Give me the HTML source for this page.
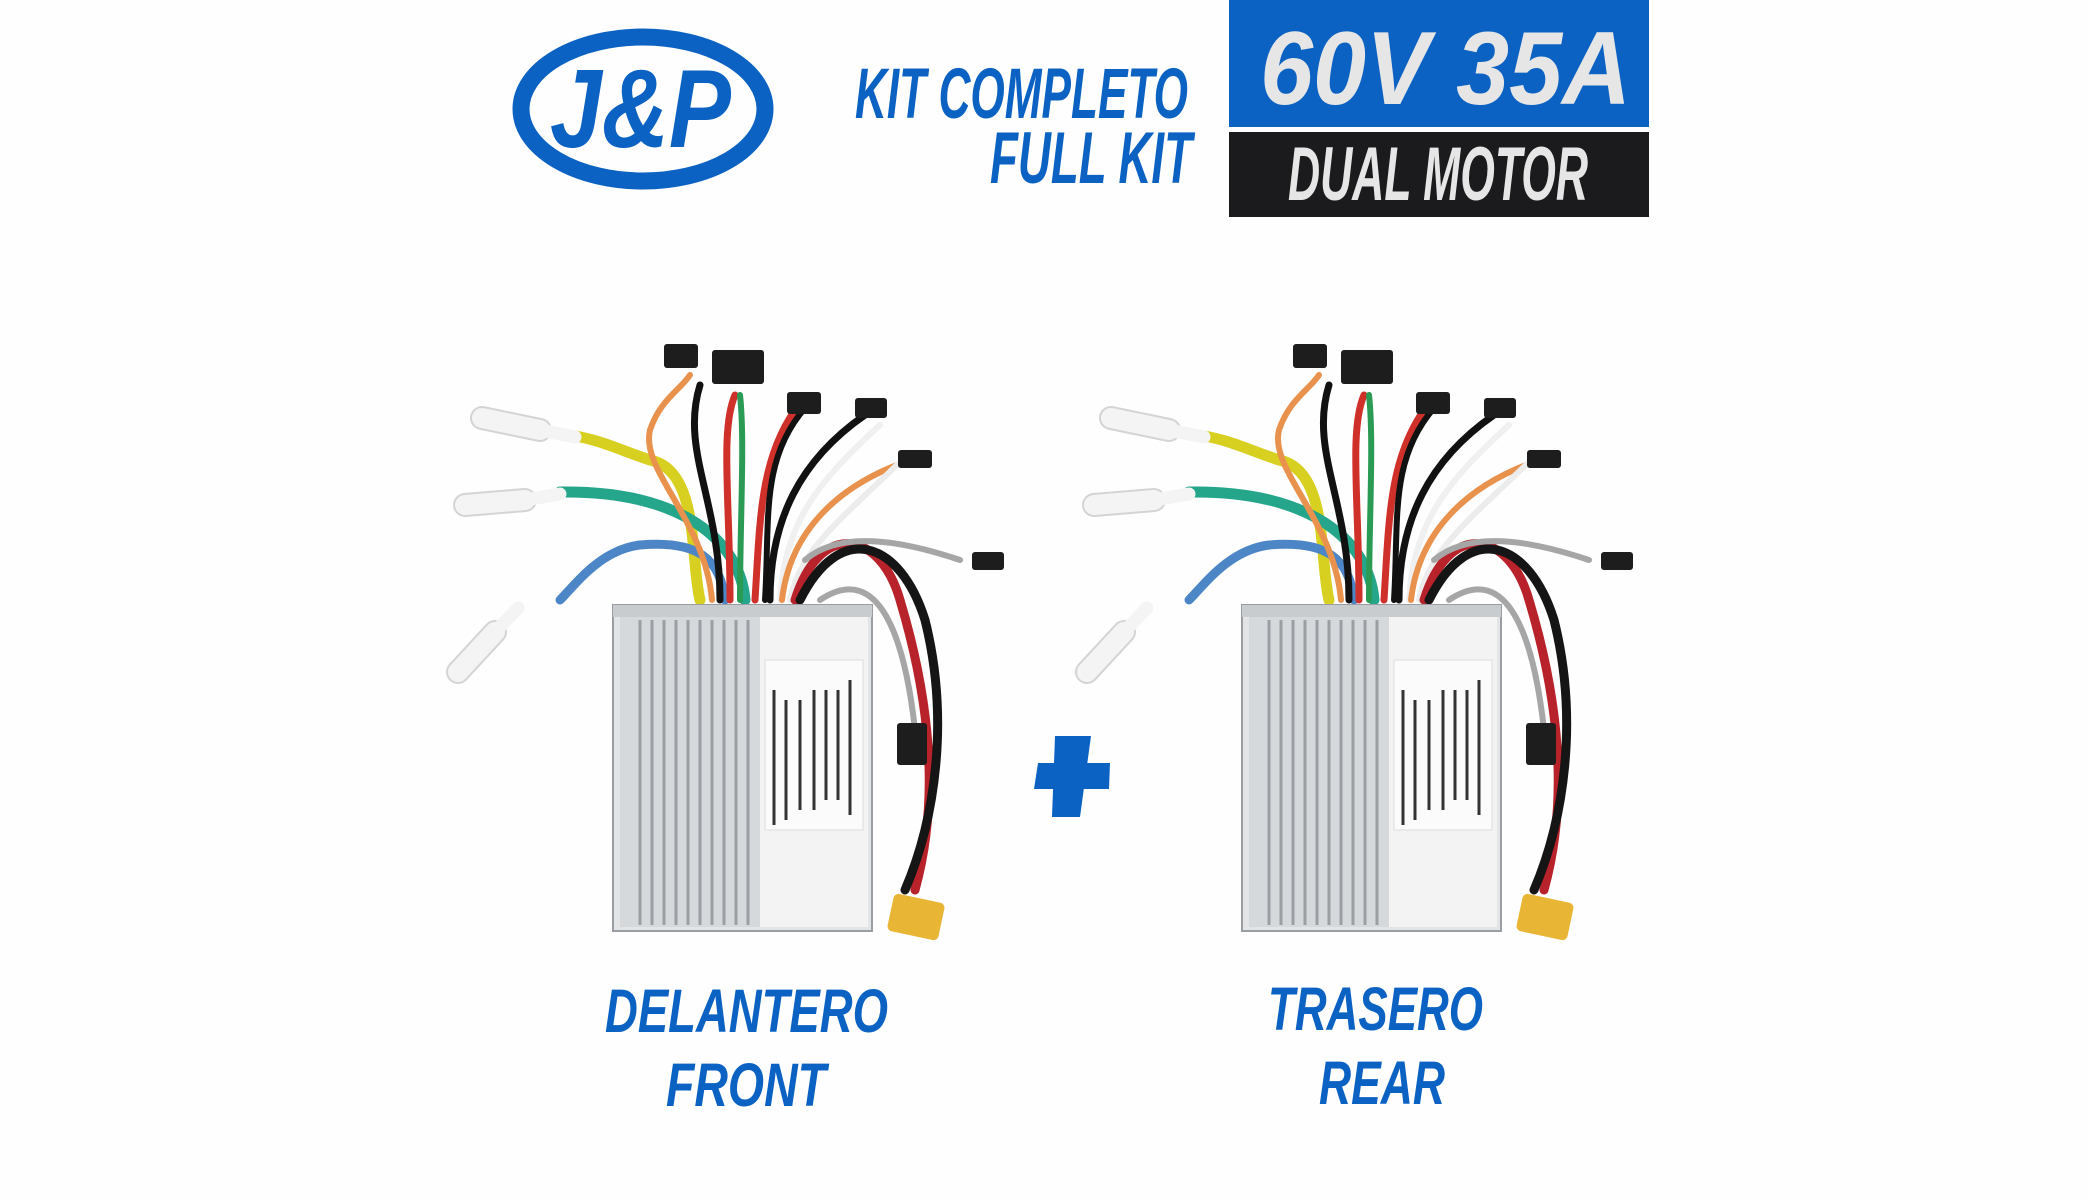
<!DOCTYPE html>
<html><head><meta charset="utf-8"><style>
html,body{margin:0;padding:0;background:#fff;}
svg{display:block;}
text{font-family:"Liberation Sans Narrow","Liberation Sans",sans-serif;font-weight:bold;font-style:italic;}
</style></head><body>
<svg width="2087" height="1200" viewBox="0 0 2087 1200" xmlns="http://www.w3.org/2000/svg">
<rect width="2087" height="1200" fill="#fefefe"/>
<!-- logo -->
<ellipse cx="643" cy="109" rx="122" ry="72" fill="none" stroke="#0b62c2" stroke-width="17"/>
<text x="550" y="147" font-size="111" fill="#0b62c2" textLength="181" lengthAdjust="spacingAndGlyphs">J&amp;P</text>
<text x="855" y="118" font-size="71" fill="#0b62c2" textLength="333" lengthAdjust="spacingAndGlyphs">KIT COMPLETO</text>
<text x="990" y="183" font-size="73" fill="#0b62c2" textLength="202" lengthAdjust="spacingAndGlyphs">FULL KIT</text>
<rect x="1229" y="0" width="420" height="127" fill="#0b62c2"/>
<text x="1260" y="104" font-size="104" fill="#e6e6e6" textLength="371" lengthAdjust="spacingAndGlyphs">60V 35A</text>
<rect x="1229" y="132" width="420" height="85" fill="#1b1b1d"/>
<text x="1288" y="200" font-size="76" fill="#e6e6e6" textLength="300" lengthAdjust="spacingAndGlyphs">DUAL MOTOR</text>
<!-- plus -->
<polygon points="1055,736 1091,736 1080,817 1052,817" fill="#0b62c2"/>
<polygon points="1038,763 1110,763 1109,789 1034,789" fill="#0b62c2"/>
<defs>
<g id="ctrl">
 <g fill="none" stroke-linecap="round">
  <path d="M700,600 C690,560 700,470 650,460 C620,450 600,440 575,436" stroke="#d8d020" stroke-width="11"/>
  <path d="M745,600 C740,540 680,490 560,492" stroke="#25a58a" stroke-width="11"/>
  <path d="M725,600 C720,560 700,540 640,545 C600,550 575,585 560,600" stroke="#4d86c6" stroke-width="9"/>
  <path d="M720,600 C720,500 680,450 700,385" stroke="#111" stroke-width="7"/>
  <path d="M730,600 C730,500 720,430 735,395" stroke="#d0302a" stroke-width="7"/>
  <path d="M712,600 C705,520 640,470 650,430 C660,400 680,390 690,375" stroke="#e8924e" stroke-width="6"/>
  <path d="M740,600 C740,520 745,440 740,395" stroke="#2a9a55" stroke-width="6"/>
  <path d="M755,600 C760,520 760,460 795,410" stroke="#d0302a" stroke-width="7"/>
  <path d="M765,600 C770,520 760,460 805,408" stroke="#111" stroke-width="6"/>
  <path d="M770,600 C770,520 800,460 865,415" stroke="#111" stroke-width="7"/>
  <path d="M780,600 C785,520 820,480 880,425" stroke="#f0f0f0" stroke-width="6"/>
  <path d="M782,600 C790,530 840,485 905,462" stroke="#e8924e" stroke-width="6"/>
  <path d="M790,600 C800,550 840,520 900,462" stroke="#ececec" stroke-width="6"/>
  <path d="M795,600 C820,520 880,530 900,600 C930,700 940,800 915,890" stroke="#b8222a" stroke-width="9"/>
  <path d="M800,600 C840,520 900,540 925,620 C950,720 935,820 905,890" stroke="#151515" stroke-width="9"/>
  <path d="M805,560 C840,530 900,540 960,560" stroke="#a6a6a6" stroke-width="6"/>
  <path d="M820,600 C880,560 905,640 915,730" stroke="#a6a6a6" stroke-width="6"/>
 </g>
 <g stroke-linecap="round" fill="none">
  <path d="M482,418 L540,430" stroke="#d4d4d4" stroke-width="24"/>
  <path d="M482,418 L540,430" stroke="#f4f4f4" stroke-width="20"/>
  <path d="M540,430 L575,437" stroke="#f4f4f4" stroke-width="13"/>
  <path d="M465,505 L525,500" stroke="#d4d4d4" stroke-width="24"/>
  <path d="M465,505 L525,500" stroke="#f4f4f4" stroke-width="20"/>
  <path d="M525,500 L560,494" stroke="#f4f4f4" stroke-width="13"/>
  <path d="M458,672 L495,632" stroke="#d4d4d4" stroke-width="24"/>
  <path d="M458,672 L495,632" stroke="#f4f4f4" stroke-width="20"/>
  <path d="M495,632 L518,608" stroke="#f4f4f4" stroke-width="13"/>
 </g>
 <g fill="#1d1d1d">
  <rect x="664" y="344" width="34" height="24" rx="3"/>
  <rect x="712" y="350" width="52" height="34" rx="3"/>
  <rect x="787" y="392" width="34" height="22" rx="3"/>
  <rect x="855" y="398" width="32" height="20" rx="3"/>
  <rect x="898" y="450" width="34" height="18" rx="3"/>
  <rect x="972" y="552" width="32" height="18" rx="3"/>
  <rect x="897" y="723" width="30" height="42" rx="3"/>
 </g>
 <rect x="613" y="605" width="259" height="326" fill="#e2e4e6" stroke="#9a9ea2" stroke-width="2"/>
 <rect x="613" y="605" width="259" height="12" fill="#c9cccf"/>
 <rect x="620" y="617" width="140" height="310" fill="#d6d9dc"/>
 <g stroke="#9b9fa4" stroke-width="3">
  <line x1="640" y1="620" x2="640" y2="925"/><line x1="652" y1="620" x2="652" y2="925"/>
  <line x1="664" y1="620" x2="664" y2="925"/><line x1="676" y1="620" x2="676" y2="925"/>
  <line x1="688" y1="620" x2="688" y2="925"/><line x1="700" y1="620" x2="700" y2="925"/>
  <line x1="712" y1="620" x2="712" y2="925"/><line x1="724" y1="620" x2="724" y2="925"/>
  <line x1="736" y1="620" x2="736" y2="925"/><line x1="748" y1="620" x2="748" y2="925"/>
 </g>
 <rect x="760" y="617" width="108" height="310" fill="#f3f3f3"/>
 <rect x="765" y="660" width="98" height="170" fill="#fbfbfb" stroke="#ddd"/>
 <g stroke="#333" stroke-width="3">
  <line x1="850" y1="680" x2="850" y2="815"/><line x1="838" y1="690" x2="838" y2="800"/>
  <line x1="826" y1="690" x2="826" y2="800"/><line x1="814" y1="690" x2="814" y2="810"/>
  <line x1="800" y1="700" x2="800" y2="810"/><line x1="786" y1="700" x2="786" y2="820"/>
  <line x1="774" y1="690" x2="774" y2="825"/>
 </g>
 <rect x="890" y="898" width="52" height="38" rx="5" fill="#e8b534" transform="rotate(12 916 917)"/>
</g>
</defs>
<use href="#ctrl"/>
<use href="#ctrl" transform="translate(629,0)"/>
<text x="605" y="1032" font-size="61" fill="#0b62c2" textLength="283" lengthAdjust="spacingAndGlyphs">DELANTERO</text>
<text x="666" y="1106" font-size="61" fill="#0b62c2" textLength="160" lengthAdjust="spacingAndGlyphs">FRONT</text>
<text x="1268" y="1030" font-size="61" fill="#0b62c2" textLength="215" lengthAdjust="spacingAndGlyphs">TRASERO</text>
<text x="1319" y="1104" font-size="61" fill="#0b62c2" textLength="126" lengthAdjust="spacingAndGlyphs">REAR</text>
</svg>
</body></html>
